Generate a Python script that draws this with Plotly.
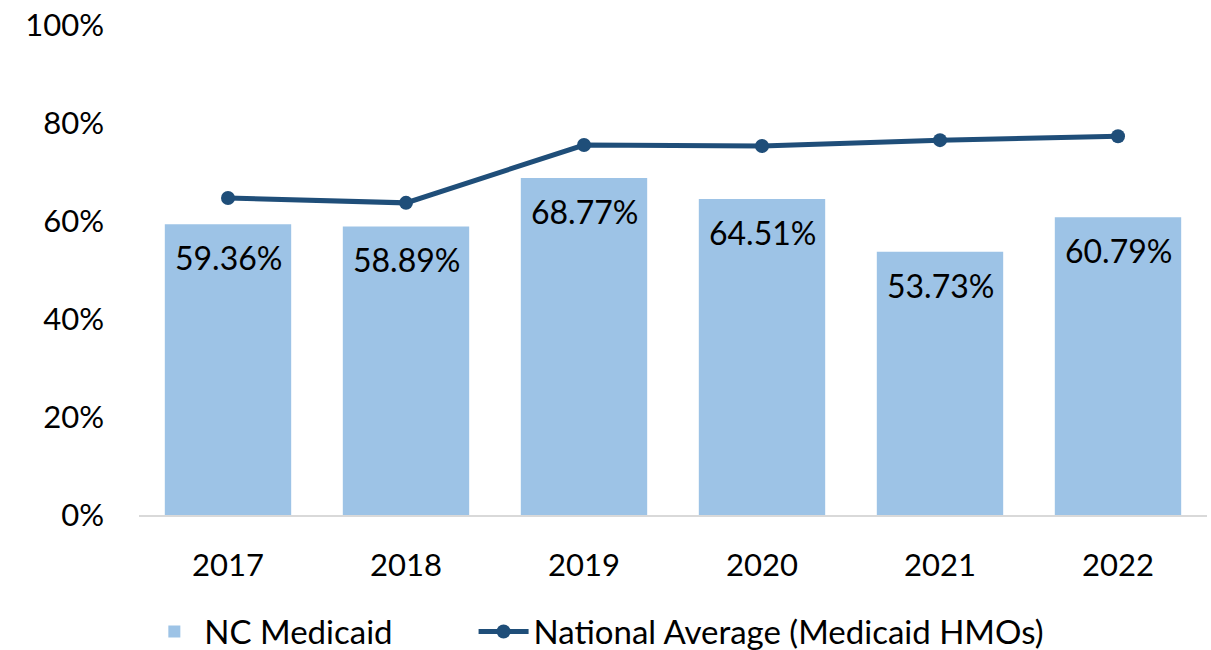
import plotly.graph_objects as go

years = ["2017", "2018", "2019", "2020", "2021", "2022"]
nc_medicaid = [59.36, 58.89, 68.77, 64.51, 53.73, 60.79]
national_avg = [64.7, 63.7, 75.5, 75.3, 76.5, 77.3]
y_ticks = [0, 20, 40, 60, 80, 100]
y_tick_labels = ["0%", "20%", "40%", "60%", "80%", "100%"]

FONT = "Lato, 'Open Sans', sans-serif"
FS = 31

fig = go.Figure()
fig.add_trace(go.Bar(
    x=years, y=nc_medicaid, name="NC Medicaid" + "&nbsp;" * 9,
    marker=dict(color="#9DC3E6", line=dict(width=0)),
    width=0.71,
))
fig.add_trace(go.Scatter(
    x=years, y=national_avg, name="National Average (Medicaid HMOs)",
    mode="lines+markers",
    line=dict(color="#1F4E79", width=5),
    marker=dict(color="#1F4E79", size=14),
))

for i, v in enumerate(nc_medicaid):
    fig.add_annotation(
        x=i, y=v, xref="x", yref="y", text=f"{v:.2f}%", showarrow=False,
        yanchor="top", yshift=-12,
        font=dict(family=FONT, size=32, color="#000000"),
    )

fig.update_layout(
    width=1211, height=650,
    margin=dict(l=139, r=4, t=25, b=135, autoexpand=False),
    paper_bgcolor="white", plot_bgcolor="white",
    font=dict(family=FONT, size=FS, color="#000000"),
    showlegend=True,
    legend=dict(
        orientation="h", x=0.005, xanchor="left", y=-0.238, yanchor="middle",
        font=dict(family=FONT, size=33, color="#000000"),
        itemwidth=50, tracegroupgap=0,
    ),
    bargap=0.29,
)
fig.update_xaxes(
    type="category", range=[-0.5, len(years) - 0.5], automargin=False,
    showline=True, linecolor="#D9D9D9", linewidth=2,
    showgrid=False, ticks="", ticklabelstandoff=22,
    tickfont=dict(family=FONT, size=FS),
)
fig.update_yaxes(
    range=[0, 100], tickvals=y_ticks, ticktext=y_tick_labels, automargin=False,
    showgrid=False, showline=False, zeroline=False, ticks="",
    ticklabelstandoff=34,
    tickfont=dict(family=FONT, size=FS),
)

fig.write_html("out.html")
